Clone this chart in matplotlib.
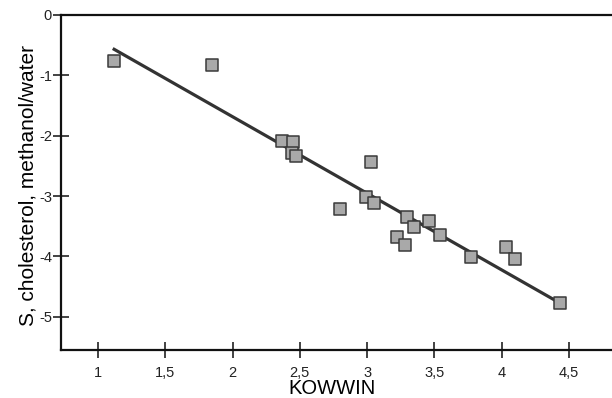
import matplotlib
matplotlib.use("Agg")
import matplotlib.pyplot as plt
import numpy as np

# data
kowwin = [1.12, 1.85, 2.37, 2.45, 2.44, 2.47, 3.03, 2.99, 3.05, 2.80,
          3.30, 3.46, 3.35, 3.54, 3.22, 3.28, 3.77, 4.03, 4.10, 4.43]
s_chol = [-0.76, -0.83, -2.08, -2.10, -2.29, -2.33, -2.44, -3.01, -3.12, -3.22,
          -3.34, -3.42, -3.52, -3.64, -3.68, -3.81, -4.01, -3.85, -4.05, -4.77]

# regression line as drawn
fit_slope = -1.269
fit_intercept = 0.853

xticks = [1, 1.5, 2, 2.5, 3, 3.5, 4, 4.5]
xticklabels = ["1", "1,5", "2", "2,5", "3", "3,5", "4", "4,5"]
yticks = [0, -1, -2, -3, -4, -5]

plt.rcParams["font.family"] = ["Liberation Sans", "DejaVu Sans"]
plt.rcParams["axes.unicode_minus"] = False

fig = plt.figure(figsize=(6.12, 3.98), dpi=100)
ax = fig.add_axes([61 / 612, 48 / 398, 1 - 61 / 612, (350 - 15) / 398])

xl = np.array([min(kowwin), max(kowwin)])
ax.plot(xl, fit_intercept + fit_slope * xl, color="#333333", lw=2.3, zorder=2)
ax.scatter(kowwin, s_chol, marker="s", s=80, facecolor="#a9a9a9",
           edgecolor="#3a3a3a", linewidths=1.1, zorder=3)

ax.set_xlim(0.725, 4.82)
ax.set_ylim(-5.55, 0)
ax.set_xticks(xticks)
ax.set_xticklabels(xticklabels)
ax.set_yticks(yticks)
ax.tick_params(direction="inout", length=11, width=1.2, labelsize=10.5,
               colors="#222222")
ax.tick_params(axis="x", pad=6)
ax.tick_params(axis="y", pad=1)
for side in ["left", "bottom", "top"]:
    ax.spines[side].set_linewidth(1.6)
    ax.spines[side].set_color("#111111")
ax.spines["right"].set_visible(False)

ax.set_xlabel("KOWWIN", fontsize=14.5)
ax.xaxis.set_label_coords(0.492, -0.143)
ax.xaxis.label.set_va("bottom")
ax.set_ylabel("S, cholesterol, methanol/water", fontsize=15)
ax.yaxis.set_label_coords(-0.042, 0.49)

fig.savefig("out.png", dpi=100)
